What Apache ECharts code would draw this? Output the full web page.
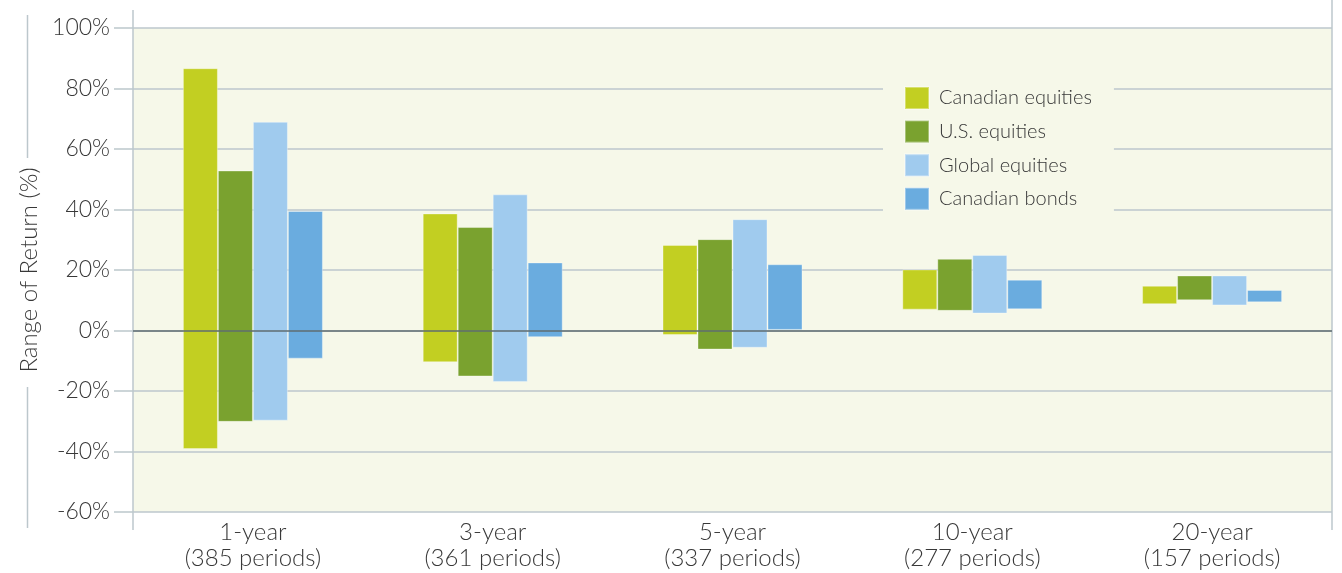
<!DOCTYPE html>
<html>
<head>
<meta charset="utf-8">
<title>Range of Return</title>
<script src="https://cdn.jsdelivr.net/npm/echarts@6/dist/echarts.min.js"></script>
<style>
  html, body { margin: 0; padding: 0; background: #ffffff; }
  #chart { width: 1342px; height: 573px; }
</style>
</head>
<body>
<div id="chart"></div>
<script>
// Holding periods
const categories = [
  '1-year\n(385 periods)',
  '3-year\n(361 periods)',
  '5-year\n(337 periods)',
  '10-year\n(277 periods)',
  '20-year\n(157 periods)'
];

const seriesNames = ['Canadian equities', 'U.S. equities', 'Global equities', 'Canadian bonds'];

// Lowest and highest annualized return (%) for each holding period
const canadianEquitiesLow  = [-39.2, -10.5, -1.5, 6.9, 8.7];
const canadianEquitiesHigh = [86.7, 38.7, 28.3, 20.2, 14.8];
const usEquitiesLow        = [-30.2, -15.2, -6.3, 6.5, 10.0];
const usEquitiesHigh       = [52.9, 34.2, 30.2, 23.7, 18.2];
const globalEquitiesLow    = [-29.8, -17.0, -5.7, 5.6, 8.3];
const globalEquitiesHigh   = [69.0, 45.0, 36.8, 25.0, 18.2];
const canadianBondsLow     = [-9.3, -2.2, 0.2, 7.0, 9.3];
const canadianBondsHigh    = [39.5, 22.5, 21.9, 16.8, 13.4];

// Y axis ticks
const yMin = -60, yMax = 100, yStep = 20;

const colors = ['#c2cf22', '#7aa22f', '#a0cbee', '#6aacdf'];
const lows  = [canadianEquitiesLow, usEquitiesLow, globalEquitiesLow, canadianBondsLow];
const highs = [canadianEquitiesHigh, usEquitiesHigh, globalEquitiesHigh, canadianBondsHigh];

const FONT = 'Lato, "Noto Sans", sans-serif';
const FONT_WEIGHT = 300;
const PLOT_BG = '#f6f8e9';
const GRID_C = '#bcc7cc';
const TEXT_C = '#383838';

const series = [];
seriesNames.forEach(function (name, i) {
  // invisible base up to the low value, then the visible range on top of it
  series.push({
    name: 'base' + i,
    type: 'bar',
    stack: 's' + i,
    stackStrategy: 'all',
    barWidth: 35,
    barGap: '0%',
    silent: true,
    itemStyle: { color: 'rgba(0,0,0,0)' },
    emphasis: { disabled: true },
    data: lows[i]
  });
  series.push({
    name: name,
    type: 'bar',
    stack: 's' + i,
    stackStrategy: 'all',
    barWidth: 35,
    barGap: '0%',
    itemStyle: { color: colors[i], borderColor: 'rgba(255,255,255,0.35)', borderWidth: 1 },
    data: highs[i].map(function (h, k) { return +(h - lows[i][k]).toFixed(2); })
  });
});

// zero baseline drawn above the bars
series[series.length - 1].markLine = {
  silent: true,
  symbol: 'none',
  label: { show: false },
  lineStyle: { color: '#5f6c70', width: 1.5, type: 'solid' },
  data: [{ yAxis: 0 }],
  z: 10
};

const chart = echarts.init(document.getElementById('chart'), null, { renderer: 'canvas' });

chart.setOption({
  animation: false,
  backgroundColor: '#ffffff',
  textStyle: { fontFamily: FONT },
  grid: {
    left: 133, right: 10, top: 28, bottom: 61,
    show: true, backgroundColor: PLOT_BG, borderWidth: 0
  },
  legend: {
    orient: 'vertical',
    left: 883,
    top: 80,
    padding: [6, 22, 6, 21],
    backgroundColor: PLOT_BG,
    itemWidth: 24,
    itemHeight: 22,
    itemGap: 9.6,
    icon: 'rect',
    data: seriesNames,
    textStyle: { fontFamily: FONT, fontWeight: FONT_WEIGHT, fontSize: 20, lineHeight: 22, color: TEXT_C, padding: [0, 0, 0, 5] }
  },
  xAxis: {
    type: 'category',
    data: categories,
    axisLine: { show: false },
    axisTick: { show: false },
    splitLine: { show: false },
    axisLabel: {
      margin: 7,
      fontFamily: FONT,
      fontWeight: FONT_WEIGHT,
      fontSize: 24,
      lineHeight: 26,
      color: TEXT_C
    }
  },
  yAxis: {
    type: 'value',
    min: yMin,
    max: yMax,
    interval: yStep,
    name: 'Range of Return (%)',
    nameLocation: 'middle',
    nameRotate: 90,
    nameGap: 91,
    nameTextStyle: { fontFamily: FONT, fontWeight: FONT_WEIGHT, fontSize: 24, color: TEXT_C },
    axisLine: { show: false },
    axisTick: { show: true, inside: false, length: 19, lineStyle: { color: GRID_C, width: 1.5 } },
    axisLabel: {
      margin: 23,
      fontFamily: FONT,
      fontWeight: FONT_WEIGHT,
      fontSize: 23,
      color: TEXT_C,
      formatter: function (v) { return v + '%'; }
    },
    splitLine: { show: true, lineStyle: { color: GRID_C, width: 1.5 } }
  },
  graphic: [
    // vertical frame lines
    { type: 'line', shape: { x1: 133, y1: 10, x2: 133, y2: 530 }, style: { stroke: GRID_C, lineWidth: 1.5 }, z: 0, silent: true },
    { type: 'line', shape: { x1: 1332, y1: 0, x2: 1332, y2: 530 }, style: { stroke: GRID_C, lineWidth: 1.5 }, z: 0, silent: true },
    // rules framing the axis title
    { type: 'line', shape: { x1: 27.5, y1: 15, x2: 27.5, y2: 158 }, style: { stroke: GRID_C, lineWidth: 1.5 }, silent: true },
    { type: 'line', shape: { x1: 27.5, y1: 387, x2: 27.5, y2: 528 }, style: { stroke: GRID_C, lineWidth: 1.5 }, silent: true }
  ],
  series: series
});
</script>
</body>
</html>
